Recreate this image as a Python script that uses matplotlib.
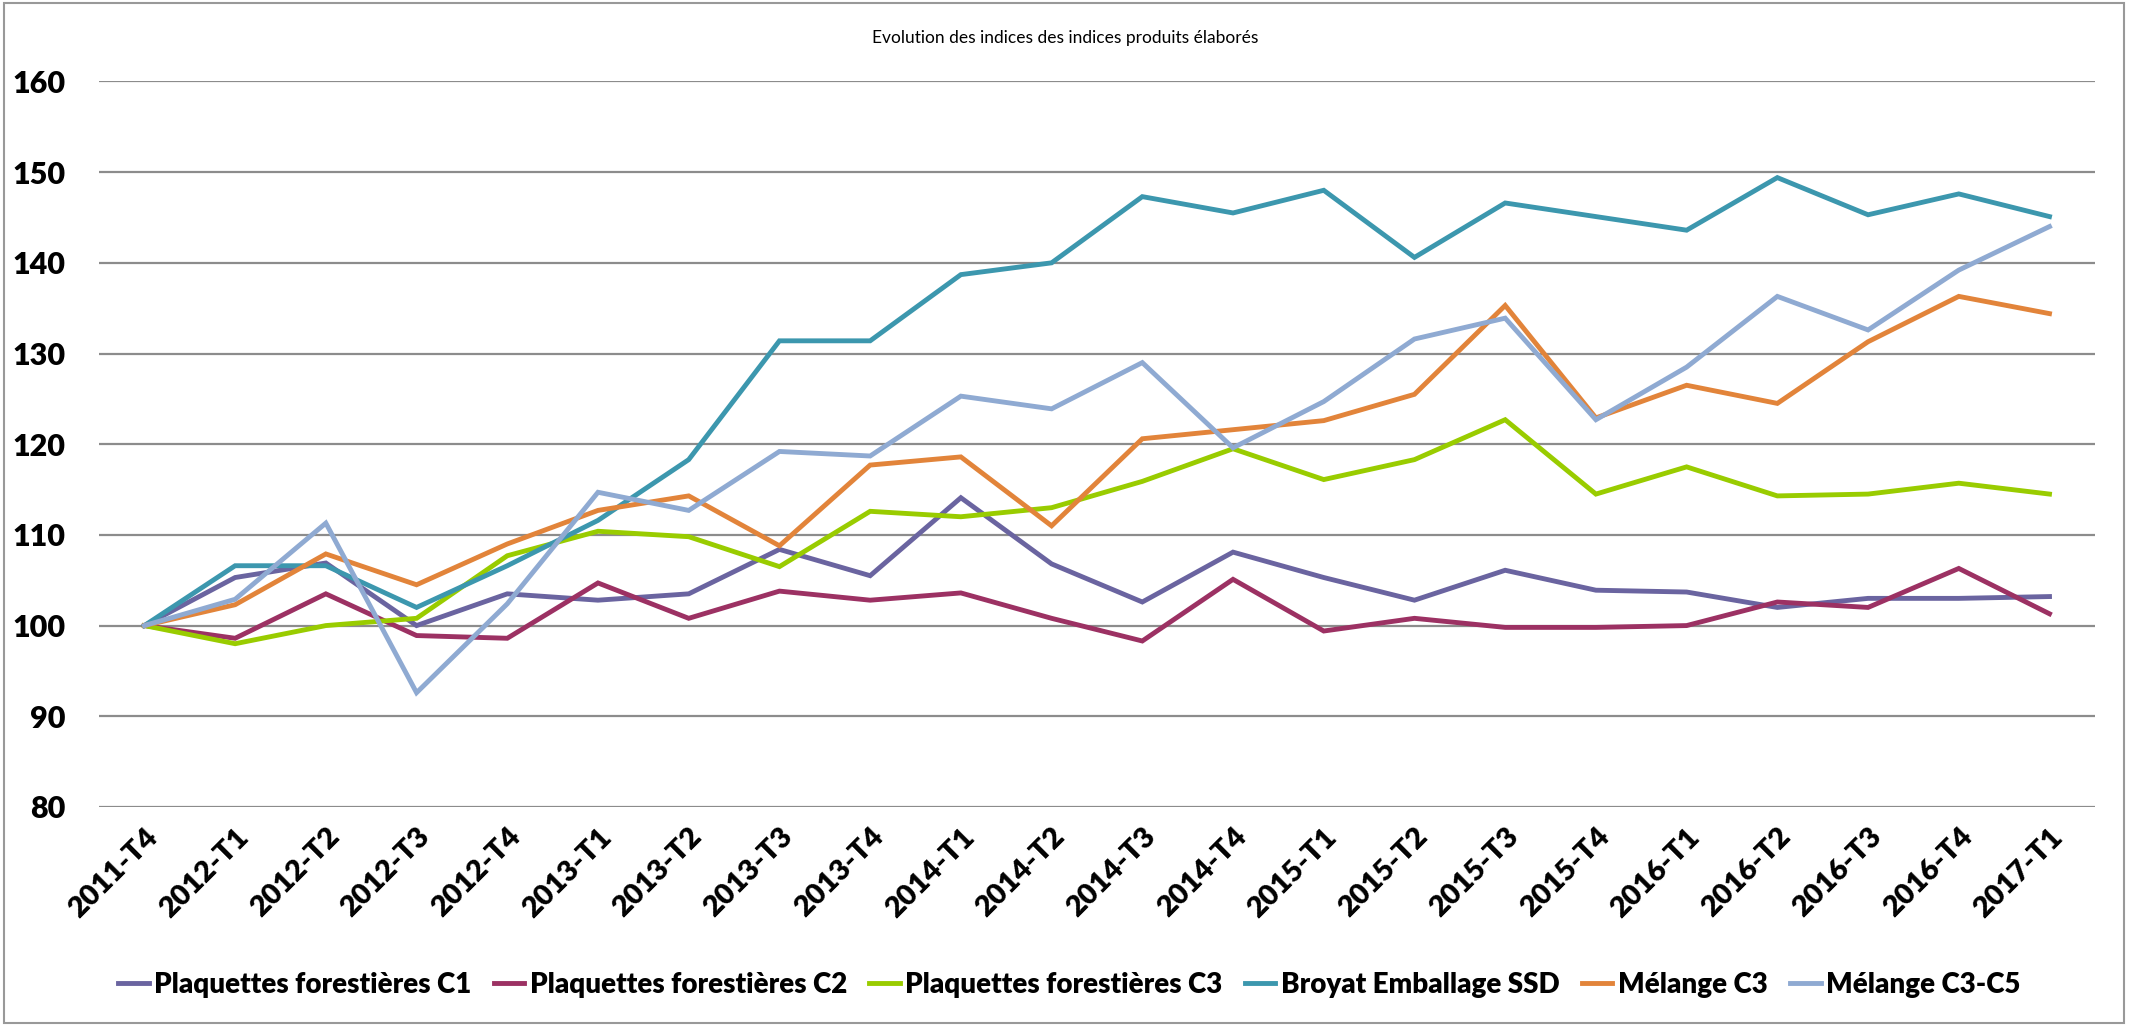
import matplotlib.pyplot as plt
import numpy as np
from matplotlib.patches import Rectangle

plt.rcParams['font.family'] = ['Lato', 'DejaVu Sans']

periods = ['2011-T4', '2012-T1', '2012-T2', '2012-T3', '2012-T4',
           '2013-T1', '2013-T2', '2013-T3', '2013-T4',
           '2014-T1', '2014-T2', '2014-T3', '2014-T4',
           '2015-T1', '2015-T2', '2015-T3', '2015-T4',
           '2016-T1', '2016-T2', '2016-T3', '2016-T4', '2017-T1']

plaquettes_c1 = [100, 105.3, 106.9, 100.0, 103.5, 102.8, 103.5, 108.4, 105.5, 114.1, 106.8,
                 102.6, 108.1, 105.3, 102.8, 106.1, 103.9, 103.7, 102.0, 103.0, 103.0, 103.2]
plaquettes_c2 = [100, 98.6, 103.5, 98.9, 98.6, 104.7, 100.8, 103.8, 102.8, 103.6, 100.8,
                 98.3, 105.1, 99.4, 100.8, 99.8, 99.8, 100.0, 102.6, 102.0, 106.3, 101.3]
plaquettes_c3 = [100, 98.0, 100.0, 100.8, 107.7, 110.4, 109.8, 106.5, 112.6, 112.0, 113.0,
                 115.9, 119.5, 116.1, 118.3, 122.7, 114.5, 117.5, 114.3, 114.5, 115.7, 114.5]
broyat_ssd = [100, 106.6, 106.6, 102.0, 106.6, 111.6, 118.3, 131.4, 131.4, 138.7, 140.0,
              147.3, 145.5, 148.0, 140.6, 146.6, 145.1, 143.6, 149.4, 145.3, 147.6, 145.1]
melange_c3 = [100, 102.3, 107.9, 104.5, 109.0, 112.7, 114.3, 108.8, 117.7, 118.6, 111.0,
              120.6, 121.6, 122.6, 125.5, 135.3, 122.9, 126.5, 124.5, 131.3, 136.3, 134.4]
melange_c3_c5 = [100, 102.9, 111.3, 92.6, 102.4, 114.7, 112.7, 119.2, 118.7, 125.3, 123.9,
                 129.0, 119.6, 124.7, 131.6, 133.9, 122.7, 128.5, 136.3, 132.6, 139.2, 144.0]

series = [
    ('Plaquettes forestières C1', plaquettes_c1, '#6A64A0'),
    ('Plaquettes forestières C2', plaquettes_c2, '#9C3163'),
    ('Plaquettes forestières C3', plaquettes_c3, '#99CC00'),
    ('Broyat Emballage SSD', broyat_ssd, '#3C97AE'),
    ('Mélange C3', melange_c3, '#E2843A'),
    ('Mélange C3-C5', melange_c3_c5, '#8FAAD2'),
]

fig = plt.figure(figsize=(21.3, 10.26), dpi=100)
ax = fig.add_axes([0.0465, 0.2135, 0.937, 0.7071])

x = np.arange(len(periods))
for label, vals, color in series:
    ax.plot(x, vals, color=color, lw=3.5, label=label, solid_joinstyle='miter')

ax.set_xlim(-0.5, len(periods) - 0.5)
ax.set_ylim(80, 160)
ax.set_yticks(np.arange(80, 161, 10))
ax.grid(axis='y', color='#8C8C8C', lw=1.6)
ax.set_axisbelow(True)
for s in ax.spines.values():
    s.set_visible(False)

ax.set_xticks(x)
ax.set_xticklabels(periods, rotation=45, ha='right', rotation_mode='anchor',
                   fontsize=21, fontweight='heavy')
ax.tick_params(axis='x', length=0, pad=12)
ax.tick_params(axis='y', length=0, pad=24, labelsize=22)
for t in ax.get_yticklabels():
    t.set_fontweight('heavy')

fig.text(0.5, 0.963, 'Evolution des indices des indices produits élaborés',
         ha='center', va='center', fontsize=12.5)

fig.legend(loc='center', bbox_to_anchor=(0.502, 0.04), ncol=6, frameon=False,
           prop={'size': 20, 'weight': 'heavy'}, handlelength=1.1,
           handletextpad=0.2, columnspacing=0.8)

fig.add_artist(Rectangle((0.002, 0.003), 0.995, 0.994, transform=fig.transFigure,
                         fill=False, edgecolor='#999999', lw=1.5))

fig.savefig('out.png', dpi=100)
